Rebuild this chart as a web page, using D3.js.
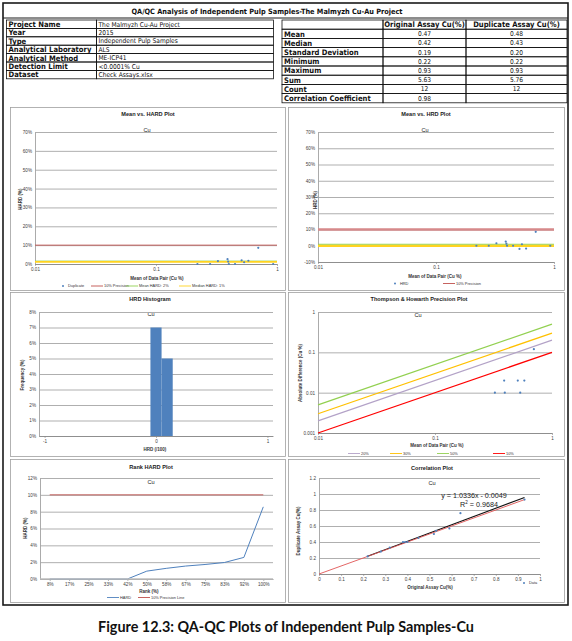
<!DOCTYPE html>
<html>
<head>
<meta charset="utf-8">
<script src="https://cdn.jsdelivr.net/npm/d3@7"></script>
<style>
  body { margin: 0; background: #fff; }
  svg { display: block; }
  text { font-family: "Liberation Sans", Arial, sans-serif; }
</style>
</head>
<body>
<script>
// 原始样 / 重复样 Cu(%)
var original  = [0.22, 0.28, 0.32, 0.38, 0.39, 0.40, 0.45, 0.52, 0.53, 0.59, 0.64, 0.93];
var duplicate = [0.22, 0.28, 0.33, 0.40, 0.40, 0.40, 0.45, 0.50, 0.54, 0.57, 0.76, 0.93];

// 表格
var infoLabels = ["Project Name", "Year", "Type", "Analytical Laboratory", "Analytical Method", "Detection Limit", "Dataset"];
var infoValues = ["The Malmyzh Cu-Au Project", "2015", "Independent Pulp Samples", "ALS", "ME-ICP41", "<0.0001% Cu", "Check Assays.xlsx"];
var statHeaders = ["Original Assay Cu(%)", "Duplicate Assay Cu(%)"];
var statLabels = ["Mean", "Median", "Standard Deviation", "Minimum", "Maximum", "Sum", "Count", "Correlation Coefficient"];
var statOriginal = ["0.47", "0.42", "0.19", "0.22", "0.93", "5.63", "12", "0.98"];
var statDuplicate = ["0.48", "0.43", "0.20", "0.22", "0.93", "5.76", "12", ""];

// 直方图
var hrdBins = [0, 0.1];
var hrdFreq = [7, 5];

// 排序图的x轴标签
var rankLabels = ["8%", "17%", "25%", "33%", "42%", "50%", "58%", "67%", "75%", "83%", "92%", "100%"];

// 精度线
var precisionLevels = [20, 30, 50, 10];
var precisionColors = ["#b3a2c7", "#ffc000", "#92d050", "#ff0000"];
var precisionLimit = 10;

// 趋势线
var trendSlope = 1.0336;
var trendIntercept = -0.0049;
var trendR2 = 0.9684;

// 派生数据
var pairMean = original.map(function (d, i) { return (d + duplicate[i]) / 2; });
var absDiff = original.map(function (d, i) { return Math.abs(duplicate[i] - d); });
var hard = original.map(function (d, i) { return absDiff[i] / (d + duplicate[i]) * 100; });
var hrd = original.map(function (d, i) { return (duplicate[i] - d) / (d + duplicate[i]) * 100; });
var meanHard = d3.mean(hard), medianHard = d3.median(hard);
var meanHrd = d3.mean(hrd), medianHrd = d3.median(hrd);
var rankHard = hard.slice().sort(d3.ascending);

var blue = "#4f81bd";
var gridColor = "#a6a6a6";
var axisColor = "#868686";
var font = "Liberation Sans, Arial, sans-serif";

var svg = d3.select("body").append("svg")
  .attr("width", 572)
  .attr("height", 641);

svg.append("rect").attr("width", 572).attr("height", 641).attr("fill", "#fff");

//外框
svg.append("rect")
  .attr("x", 3).attr("y", 3)
  .attr("width", 565).attr("height", 602)
  .attr("fill", "none").attr("stroke", "#1a1a1a").attr("stroke-width", 1.6);

svg.append("line")
  .attr("x1", 3).attr("x2", 568).attr("y1", 18).attr("y2", 18)
  .attr("stroke", "#1a1a1a").attr("stroke-width", 1);

svg.append("text")
  .attr("x", 267).attr("y", 13.5)
  .attr("text-anchor", "middle")
  .attr("font-size", 7.3).attr("font-weight", "bold")
  .attr("fill", "#111")
  .style("font-family", "DejaVu Sans Condensed, DejaVu Sans, sans-serif")
  .text("QA/QC Analysis of Independent Pulp Samples-The Malmyzh Cu-Au Project");

//左表
var tblFont = "DejaVu Sans Condensed, DejaVu Sans, sans-serif";
var leftTop = 20, leftRow = 8.4;
var leftCols = [6.5, 96.5, 273.5];
var leftRows = svg.selectAll(".infoRow")
  .data(infoLabels)
  .enter()
  .append("g")
  .attr("class", "infoRow")
  .attr("transform", function (d, i) { return "translate(0," + (leftTop + i * leftRow) + ")"; });

leftRows.append("rect")
  .attr("x", leftCols[0]).attr("width", leftCols[1] - leftCols[0]).attr("height", leftRow)
  .attr("fill", "none").attr("stroke", "#111").attr("stroke-width", 0.8);
leftRows.append("rect")
  .attr("x", leftCols[1]).attr("width", leftCols[2] - leftCols[1]).attr("height", leftRow)
  .attr("fill", "none").attr("stroke", "#111").attr("stroke-width", 0.8);
leftRows.append("text")
  .attr("x", leftCols[0] + 2).attr("y", leftRow / 2).attr("dy", "0.36em")
  .attr("font-size", 7.6).attr("font-weight", "bold").attr("fill", "#111")
  .style("font-family", tblFont)
  .text(function (d) { return d; });
leftRows.append("text")
  .attr("x", leftCols[1] + 2).attr("y", leftRow / 2).attr("dy", "0.36em")
  .attr("font-size", 6.6).attr("fill", "#111")
  .style("font-family", tblFont)
  .text(function (d, i) { return infoValues[i]; });

//右表
var rightTop = 20, rightRow = 9.2;
var rightCols = [282, 383, 466, 567];
var statRows = [""].concat(statLabels);
var rightRows = svg.selectAll(".statRow")
  .data(statRows)
  .enter()
  .append("g")
  .attr("class", "statRow")
  .attr("transform", function (d, i) { return "translate(0," + (rightTop + i * rightRow) + ")"; });

[0, 1, 2].forEach(function (c) {
  rightRows.append("rect")
    .attr("x", rightCols[c]).attr("width", rightCols[c + 1] - rightCols[c]).attr("height", rightRow)
    .attr("fill", "none").attr("stroke", "#111").attr("stroke-width", 0.8);
});
rightRows.append("text")
  .attr("x", rightCols[0] + 2).attr("y", rightRow / 2).attr("dy", "0.36em")
  .attr("font-size", 7.6).attr("font-weight", "bold").attr("fill", "#111")
  .style("font-family", tblFont)
  .text(function (d) { return d; });
rightRows.append("text")
  .attr("x", (rightCols[1] + rightCols[2]) / 2).attr("y", rightRow / 2).attr("dy", "0.36em")
  .attr("text-anchor", "middle")
  .attr("font-size", function (d, i) { return i === 0 ? 7.6 : 6.6; })
  .attr("font-weight", function (d, i) { return i === 0 ? "bold" : "normal"; })
  .attr("fill", "#111")
  .style("font-family", tblFont)
  .text(function (d, i) { return i === 0 ? statHeaders[0] : statOriginal[i - 1]; });
rightRows.append("text")
  .attr("x", (rightCols[2] + rightCols[3]) / 2).attr("y", rightRow / 2).attr("dy", "0.36em")
  .attr("text-anchor", "middle")
  .attr("font-size", function (d, i) { return i === 0 ? 7.6 : 6.6; })
  .attr("font-weight", function (d, i) { return i === 0 ? "bold" : "normal"; })
  .attr("fill", "#111")
  .style("font-family", tblFont)
  .text(function (d, i) { return i === 0 ? statHeaders[1] : statDuplicate[i - 1]; });

//面板
function panel(x, y, w, h, title, tx, ty, cx, cy) {
  svg.append("rect")
    .attr("x", x + 0.5).attr("y", y + 0.5).attr("width", w).attr("height", h)
    .attr("fill", "#fff").attr("stroke", "#a0a0a0").attr("stroke-width", 0.8);
  svg.append("text")
    .attr("x", tx).attr("y", ty).attr("text-anchor", "middle")
    .attr("font-size", 5.6).attr("font-weight", "bold").attr("fill", "#222")
    .text(title);
  svg.append("text")
    .attr("x", cx).attr("y", cy).attr("text-anchor", "middle")
    .attr("font-size", 5.6).attr("fill", "#222")
    .text("Cu");
}

//坐标轴与网格
function axes(x, y, o) {
  var left = x.range()[0], right = x.range()[1];
  var bottom = y.range()[0];
  svg.append("g")
    .attr("transform", "translate(" + left + ",0)")
    .call(d3.axisLeft(y).tickValues(o.yTicks).tickSize(-(right - left)).tickSizeOuter(0)
      .tickPadding(3).tickFormat(o.yFormat))
    .call(function (s) {
      s.attr("font-family", font);
      s.select(".domain").attr("stroke", axisColor).attr("stroke-width", 0.7);
      s.selectAll(".tick line").attr("stroke", gridColor).attr("stroke-width", 0.9);
      s.selectAll("text").attr("font-size", 4.6).attr("fill", "#404040");
    });
  svg.append("g")
    .attr("transform", "translate(0," + bottom + ")")
    .call(d3.axisBottom(x).tickValues(o.xTicks).tickSize(2).tickSizeOuter(0)
      .tickPadding(2).tickFormat(o.xFormat))
    .call(function (s) {
      s.attr("font-family", font);
      s.select(".domain").attr("stroke", axisColor).attr("stroke-width", 0.8);
      s.selectAll(".tick line").attr("stroke", axisColor).attr("stroke-width", 0.6);
      s.selectAll("text").attr("font-size", 4.6).attr("fill", "#404040");
    });
  svg.append("text")
    .attr("x", o.xTitle[1]).attr("y", o.xTitle[2]).attr("text-anchor", "middle")
    .attr("font-size", 4.5).attr("font-weight", "bold").attr("fill", "#333")
    .text(o.xTitle[0]);
  svg.append("text")
    .attr("transform", "translate(" + o.yTitle[1] + "," + o.yTitle[2] + ") rotate(-90)")
    .attr("text-anchor", "middle").attr("dy", "0.35em")
    .attr("font-size", 4.5).attr("font-weight", "bold").attr("fill", "#333")
    .text(o.yTitle[0]);
}

function hline(x, y, v, color, width) {
  svg.append("line")
    .attr("x1", x.range()[0]).attr("x2", x.range()[1])
    .attr("y1", y(v)).attr("y2", y(v))
    .attr("stroke", color).attr("stroke-width", width);
}

function legendItem(x, y, type, color, label) {
  if (type === "dot") {
    svg.append("circle").attr("cx", x).attr("cy", y).attr("r", 1).attr("fill", color);
    svg.append("text").attr("x", x + 5).attr("y", y).attr("dy", "0.35em")
      .attr("font-size", 3.9).attr("fill", "#333").text(label);
  } else {
    svg.append("line").attr("x1", x).attr("x2", x + 12).attr("y1", y).attr("y2", y)
      .attr("stroke", color).attr("stroke-width", 0.9);
    svg.append("text").attr("x", x + 13).attr("y", y).attr("dy", "0.35em")
      .attr("font-size", 3.9).attr("fill", "#333").text(label);
  }
}

function dots(xs, ys, x, y) {
  svg.append("g").selectAll("circle")
    .data(xs)
    .enter()
    .append("circle")
    .attr("cx", function (d) { return x(d); })
    .attr("cy", function (d, i) { return y(ys[i]); })
    .attr("r", 1.1)
    .attr("fill", blue);
}

var logFmt = function (d) { return String(d); };
var pctFmt = function (d) { return d + "%"; };

// 1. Mean vs. HARD
panel(10, 107, 275, 183, "Mean vs. HARD Plot", 148, 116, 147, 132);
var x1 = d3.scaleLog().domain([0.01, 1]).range([35, 277]);
var y1 = d3.scaleLinear().domain([0, 70]).range([264, 132]);
axes(x1, y1, {
  yTicks: d3.range(0, 71, 10), yFormat: pctFmt,
  xTicks: [0.01, 0.1, 1], xFormat: logFmt,
  xTitle: ["Mean of Data Pair (Cu %)", 157, 279.5],
  yTitle: ["HARD (%)", 20, 199]
});
hline(x1, y1, precisionLimit, "#c0504d", 0.9);
hline(x1, y1, meanHard, "#92d050", 0.9);
hline(x1, y1, medianHard, "#ffd320", 1.8);
dots(pairMean, hard, x1, y1);
legendItem(63, 286, "dot", blue, "Duplicate");
legendItem(91, 286, "line", "#c0504d", "10% Precision");
legendItem(126, 286, "line", "#92d050", "Mean HARD: 2%");
legendItem(179, 286, "line", "#ffd320", "Median HARD: 1%");

// 2. Mean vs. HRD
panel(288, 107, 276, 183, "Mean vs. HRD Plot", 426, 116, 425, 132);
var x2 = d3.scaleLog().domain([0.01, 1]).range([318, 554]);
var y2 = d3.scaleLinear().domain([-10, 70]).range([262, 132]);
axes(x2, y2, {
  yTicks: d3.range(-10, 71, 10), yFormat: pctFmt,
  xTicks: [0.01, 0.1, 1], xFormat: logFmt,
  xTitle: ["Mean of Data Pair (Cu %)", 435, 277.5],
  yTitle: ["HRD (%)", 315, 200]
});
hline(x2, y2, precisionLimit, "#d6898a", 2.4);
hline(x2, y2, medianHrd, "#ffd320", 2.4);
hline(x2, y2, meanHrd, "#92d050", 0.9);
dots(pairMean, hrd, x2, y2);
legendItem(395, 283.5, "dot", blue, "HRD");
legendItem(443, 283.5, "line", "#c0504d", "10% Precision");

// 3. HRD Histogram
panel(10, 292, 275, 164, "HRD Histogram", 150, 301, 151, 316);
var x3 = d3.scaleLinear().domain([-1.05, 1.05]).range([39, 273]);
var y3 = d3.scaleLinear().domain([0, 8]).range([436, 312]);
axes(x3, y3, {
  yTicks: d3.range(0, 9), yFormat: pctFmt,
  xTicks: [-1, 0, 1], xFormat: logFmt,
  xTitle: ["HRD (/100)", 155, 451],
  yTitle: ["Frequency (%)", 22, 375]
});
var binW = hrdBins[1] - hrdBins[0];
svg.append("g").selectAll("rect")
  .data(hrdFreq)
  .enter()
  .append("rect")
  .attr("x", function (d, i) { return x3(hrdBins[i] - binW / 2); })
  .attr("width", function (d, i) { return x3(hrdBins[i] + binW / 2) - x3(hrdBins[i] - binW / 2); })
  .attr("y", function (d) { return y3(d); })
  .attr("height", function (d) { return y3(0) - y3(d); })
  .attr("fill", blue);

// 4. Thompson & Howarth
panel(288, 292, 276, 164, "Thompson & Howarth Precision Plot", 419, 301, 418, 317);
var x4 = d3.scaleLog().domain([0.01, 1]).range([318, 552]);
var y4 = d3.scaleLog().domain([0.001, 1]).range([433, 312]);
axes(x4, y4, {
  yTicks: [0.001, 0.01, 0.1, 1], yFormat: logFmt,
  xTicks: [0.01, 0.1, 1], xFormat: logFmt,
  xTitle: ["Mean of Data Pair (Cu %)", 437, 447],
  yTitle: ["Absolute Difference (Cu %)", 300, 373]
});
precisionLevels.forEach(function (p, i) {
  var ends = x4.domain();
  svg.append("line")
    .attr("x1", x4(ends[0])).attr("y1", y4(ends[0] * p / 100))
    .attr("x2", x4(ends[1])).attr("y2", y4(ends[1] * p / 100))
    .attr("stroke", precisionColors[i]).attr("stroke-width", 1.2);
});
var thMean = pairMean.filter(function (d, i) { return absDiff[i] > 0; });
var thDiff = absDiff.filter(function (d) { return d > 0; });
dots(thMean, thDiff, x4, y4);
legendItem(348, 453.5, "line", precisionColors[0], "20%");
legendItem(390, 453.5, "line", precisionColors[1], "30%");
legendItem(437, 453.5, "line", precisionColors[2], "50%");
legendItem(493, 453.5, "line", precisionColors[3], "10%");

// 5. Rank HARD
panel(10, 459, 275, 143, "Rank HARD Plot", 151, 469, 151, 484);
var x5 = d3.scalePoint().domain(rankLabels).range([40, 273]).padding(0.5);
var y5 = d3.scaleLinear().domain([0, 12]).range([579, 478]);
axes(x5, y5, {
  yTicks: d3.range(0, 13, 2), yFormat: pctFmt,
  xTicks: rankLabels, xFormat: function (d) { return d; },
  xTitle: ["Rank (%)", 149, 592.5],
  yTitle: ["HARD (%)", 25, 528]
});
svg.append("line")
  .attr("x1", x5(rankLabels[0])).attr("x2", x5(rankLabels[rankLabels.length - 1]))
  .attr("y1", y5(precisionLimit)).attr("y2", y5(precisionLimit))
  .attr("stroke", "#c0504d").attr("stroke-width", 0.9);
var rankLine = d3.line()
  .x(function (d, i) { return x5(rankLabels[i]); })
  .y(function (d) { return y5(d); });
svg.append("path")
  .datum(rankHard)
  .attr("d", rankLine)
  .attr("fill", "none").attr("stroke", blue).attr("stroke-width", 1);
//把零值段压在坐标轴下面
svg.append("line")
  .attr("x1", x5.range()[0]).attr("x2", x5.range()[1])
  .attr("y1", y5(0)).attr("y2", y5(0))
  .attr("stroke", "#bdbdbd").attr("stroke-width", 1.4);
legendItem(107, 597.5, "line", blue, "HARD");
legendItem(138, 597.5, "line", "#c0504d", "10% Precision Line");

// 6. Correlation
panel(288, 459, 276, 143, "Correlation Plot", 432, 470, 432, 485);
var x6 = d3.scaleLinear().domain([0, 1]).range([319, 540]);
var y6 = d3.scaleLinear().domain([0, 1.2]).range([574, 478]);
var fmt1 = function (d) { return String(+d.toFixed(1)); };
axes(x6, y6, {
  yTicks: d3.ticks(0, 1.2, 6), yFormat: fmt1,
  xTicks: d3.ticks(0, 1, 10), xFormat: fmt1,
  xTitle: ["Original Assay  Cu(%)", 430, 589],
  yTitle: ["Duplicate Assay Cu(%)", 298, 531]
});
var maxOrig = d3.max(original), minOrig = d3.min(original);
svg.append("line")
  .attr("x1", x6(minOrig)).attr("y1", y6(trendSlope * minOrig + trendIntercept))
  .attr("x2", x6(maxOrig)).attr("y2", y6(trendSlope * maxOrig + trendIntercept))
  .attr("stroke", "#111").attr("stroke-width", 1.1);
svg.append("line")
  .attr("x1", x6(0)).attr("y1", y6(0))
  .attr("x2", x6(maxOrig)).attr("y2", y6(maxOrig))
  .attr("stroke", "#e05555").attr("stroke-width", 0.9);
dots(original, duplicate, x6, y6);
svg.append("text")
  .attr("x", 474).attr("y", 497.5).attr("text-anchor", "middle")
  .attr("font-size", 7.2).attr("fill", "#222")
  .text("y = " + trendSlope + "x - " + Math.abs(trendIntercept));
var r2 = svg.append("text")
  .attr("x", 479).attr("y", 506.5).attr("text-anchor", "middle")
  .attr("font-size", 7.2).attr("fill", "#222");
r2.append("tspan").text("R");
r2.append("tspan").attr("font-size", 4.6).attr("dy", -2.6).text("2");
r2.append("tspan").attr("dy", 2.6).text(" = " + trendR2);
legendItem(524, 583, "dot", blue, "Data");

// 图名
svg.append("text")
  .attr("x", 286).attr("y", 632)
  .attr("text-anchor", "middle")
  .attr("font-size", 14.4).attr("font-weight", "bold").attr("fill", "#111")
  .style("font-family", "Lato, 'Open Sans', sans-serif")
  .text("Figure 12.3: QA-QC Plots of Independent Pulp Samples-Cu");
</script>
</body>
</html>
